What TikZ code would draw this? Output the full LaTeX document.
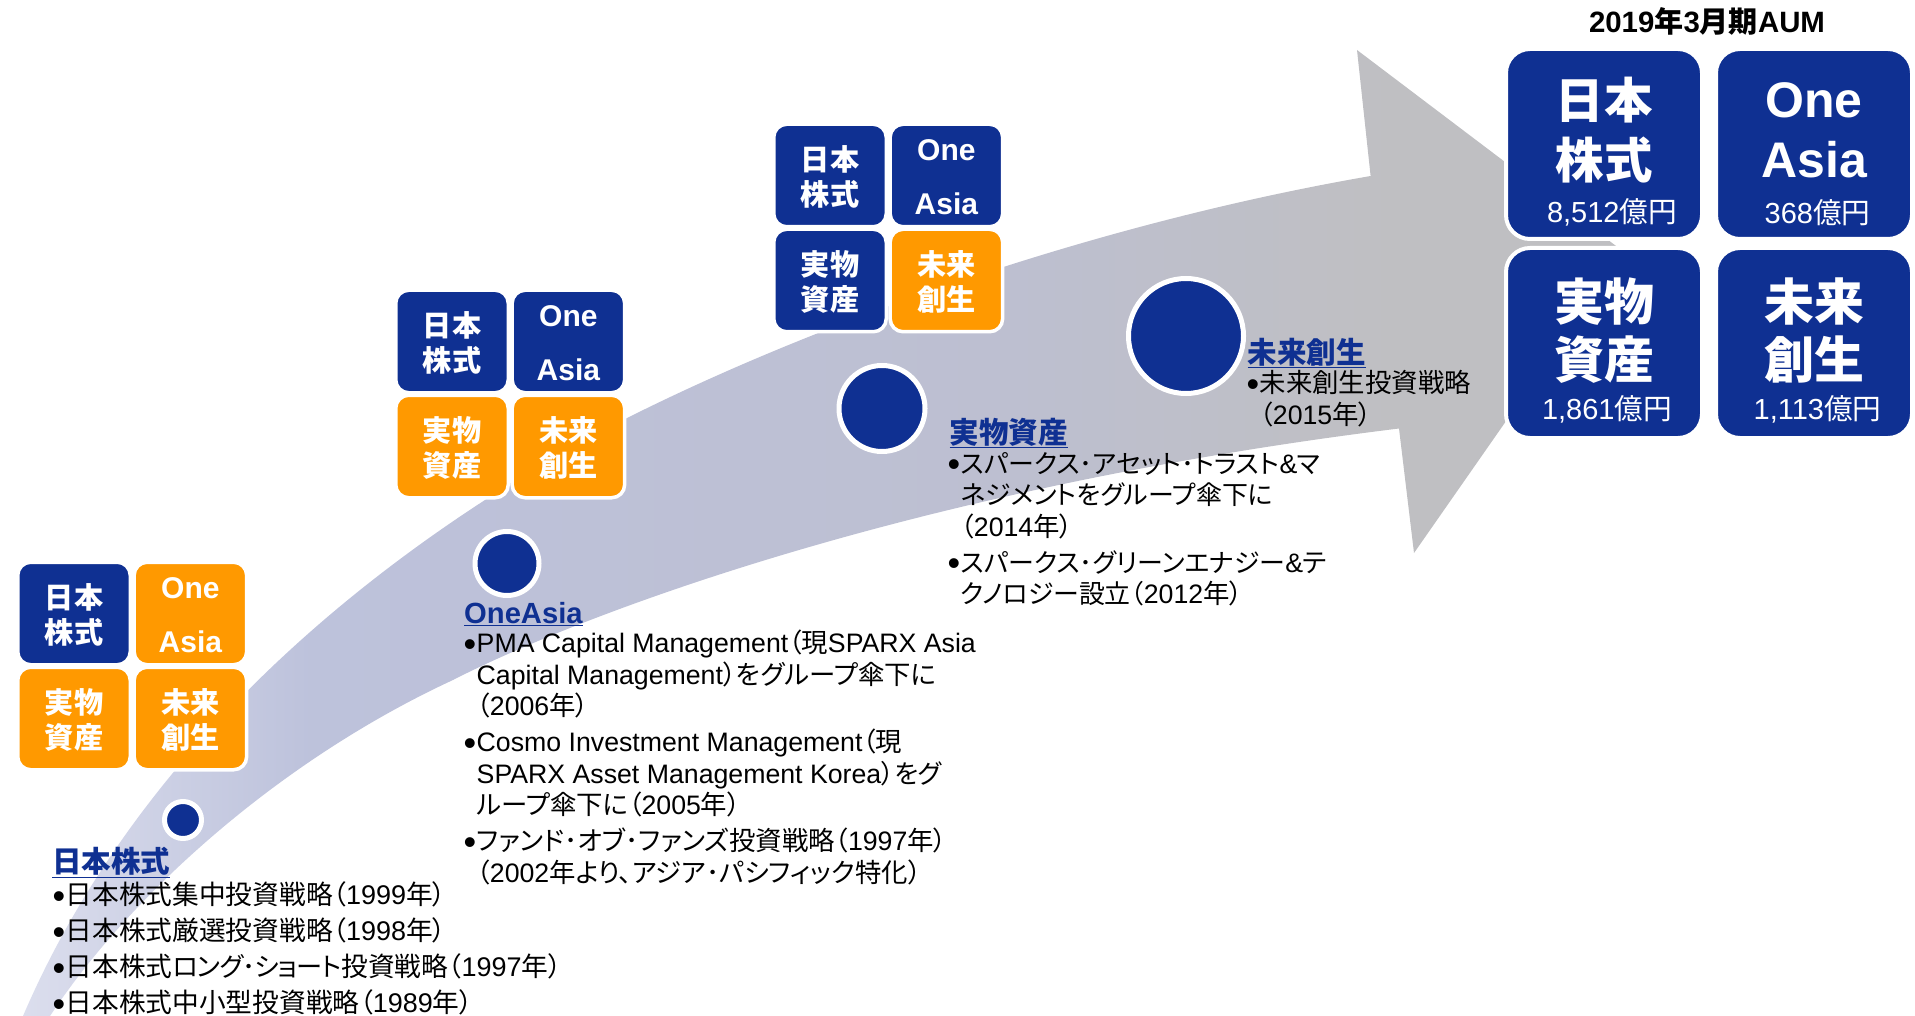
\documentclass[tikz,border=0pt]{standalone}
\usepackage{fontspec}
\setmainfont{Liberation Sans}
\newfontfamily\cjk[Scale=0.989,RawFeature=+palt]{Noto Sans CJK JP}
\newfontfamily\cjkn[Scale=0.971,RawFeature=+palt]{Noto Sans CJK JP}
\newfontfamily\cjkt[Scale=0.971,LetterSpace=-3.5,RawFeature=+palt]{Noto Sans CJK JP}
\newcommand\jp[1]{{\cjk #1}}
\newcommand\kn[1]{{\cjkn #1}}
\newcommand\kt[1]{{\cjkt #1}}
\newcommand\blt{\leavevmode\llap{\smash{\raisebox{-3.7pt}{\fontsize{36}{36}\selectfont •}}\hspace{0.5pt}}}
\newcommand\tjp{\rule{0pt}{27pt}}
\newcommand\toa{\rule{0pt}{24pt}}
\definecolor{tileblue}{RGB}{15,48,146}
\definecolor{tileorange}{RGB}{255,153,0}
\pgfdeclarehorizontalshading{arrowfade}{100bp}{
  rgb(0bp)=(0.86,0.87,0.93); rgb(25bp)=(0.86,0.87,0.93);
  rgb(34bp)=(0.74,0.76,0.86); rgb(55bp)=(0.74,0.75,0.82);
  rgb(68bp)=(0.75,0.75,0.76); rgb(100bp)=(0.75,0.75,0.76)}
\tikzset{
  tile/.style={rectangle,rounded corners=13pt,draw=white,line width=3.5pt,
    minimum width=112.5pt,minimum height=102.5pt,inner sep=0pt,text=white,align=center,
    font=\bfseries\fontsize{29.5}{35}\selectfont},
  bigtile/.style={rectangle,rounded corners=24pt,draw=white,line width=4pt,fill=tileblue,
    minimum width=196pt,minimum height=190pt,inner sep=0pt},
  bigname/.style={text=white,align=center,inner sep=0pt,font=\bfseries\fontsize{49}{60}\selectfont},
  aumval/.style={text=white,inner sep=0pt,font=\fontsize{29}{31}\selectfont},
  dot/.style={circle,fill=tileblue,draw=white,line width=5pt,inner sep=0pt},
  hd/.style={anchor=west,inner sep=0pt,text=tileblue,font=\bfseries\fontsize{29.85}{31}\selectfont},
  body/.style={anchor=north west,inner sep=0pt,align=left,font=\fontsize{26.7}{31.5}\selectfont},
}
\begin{document}
\begin{tikzpicture}[x=1pt,y=-1pt]
\useasboundingbox (0,0) rectangle (1915,1016);

\shade[shading=arrowfade] (23,1016) .. controls (120,790) and (300,620) .. (485,500)
  .. controls (640,393) and (1000,240) .. (1370.6,176)
  -- (1357,50) -- (1624,252) -- (1414,553) -- (1399,428.5)
  .. controls (900,490) and (570,620) .. (453,680)
  .. controls (280,760) and (130,895) .. (50,1016) -- cycle;

\foreach \gx/\gy/\g/\colo/\colr/\colm in {74/613.5/a/tileorange/tileorange/tileorange,
    452/341.5/b/tileblue/tileorange/tileorange, 830/175.5/c/tileblue/tileblue/tileorange} {
  \node[tile,fill=tileblue] (jp\g) at (\gx,\gy) {\tjp\jp{日本}\\\jp{株式}};
  \node[tile,fill=\colo,font=\bfseries\fontsize{30}{53.5}\selectfont] (oa\g) at (\gx+116.4,\gy) {\toa One\\Asia};
  \node[tile,fill=\colr] (ra\g) at (\gx,\gy+105) {\tjp\jp{実物}\\\jp{資産}};
  \node[tile,fill=\colm] (fc\g) at (\gx+116.4,\gy+105) {\tjp\jp{未来}\\\jp{創生}};
}

\node[bigtile] (jpd) at (1604,144) {};
\node[bigtile] (oad) at (1814,144) {};
\node[bigtile] (rad) at (1604,343) {};
\node[bigtile] (fcd) at (1814,343) {};
\node[bigname] (jpn) at (1604,130) {\jp{日本}\\\jp{株式}};
\node[bigname,font=\bfseries\fontsize{50}{60}\selectfont] (oan) at (1814,130.5) {One\\Asia};
\node[bigname,font=\bfseries\fontsize{50.5}{58}\selectfont] (ran) at (1604,330.5) {\jp{実物}\\\jp{資産}};
\node[bigname,font=\bfseries\fontsize{50.5}{58}\selectfont] (fcn) at (1814,330.5) {\jp{未来}\\\jp{創生}};
\node[aumval] (jpv) at (1612,212.5) {8,512\jp{億円}};
\node[aumval] (oav) at (1817.5,212.5) {368\jp{億円}};
\node[aumval] (rav) at (1607,409) {1,861\jp{億円}};
\node[aumval] (fcv) at (1817.5,409) {1,113\jp{億円}};
\node[inner sep=0pt,font=\bfseries\fontsize{29.4}{31}\selectfont] (aum) at (1707,21) {2019\jp{年}3\jp{月期}AUM};

\node[dot,minimum size=37pt] (dota) at (183,820) {};
\node[dot,minimum size=64pt] (dotb) at (507,563.5) {};
\node[dot,minimum size=86pt] (dotc) at (882,408.5) {};
\node[dot,minimum size=115pt] (dotd) at (1186,336) {};

\node[hd] (hda) at (52,862.5) {\underline{\jp{日本株式}}};
\node[body,font=\fontsize{27}{36}\selectfont] (txta) at (65.5,881.5) {\blt\jp{日本株式集中投資戦略（}1999\jp{年）}\\
  \blt\jp{日本株式厳選投資戦略（}1998\jp{年）}\\
  \blt\jp{日本株式}\kt{ロング･ショート}\jp{投資戦略（}1997\jp{年）}\\
  \blt\jp{日本株式中小型投資戦略（}1989\jp{年）}};

\node[hd,font=\bfseries\fontsize{29.2}{31}\selectfont] (hdb) at (464,614) {\underline{OneAsia}};
\node[body] (txtb) at (476.5,630) {\blt PMA Capital Management\jp{（現}SPARX Asia\\
  Capital Management\jp{）をグループ傘下に}\\
  \jp{（}2006\jp{年）}\\[4.5pt]
  \blt Cosmo Investment Management\jp{（現}\\
  SPARX Asset Management Korea\kn{）をグ}\\
  \jp{ループ傘下に（}2005\jp{年）}\\[4.5pt]
  \blt\jp{ファンド･オブ･ファンズ投資戦略（}1997\jp{年）}\\
  \jp{（}2002\jp{年より、アジア･パシフィック特化）}};

\node[hd] (hdc) at (949.5,433) {\underline{\jp{実物資産}}};
\node[body] (txtc) at (960.5,452) {\blt\kn{スパークス･アセット･トラスト}\&\kn{マ}\\
  \kn{ネジメントをグループ傘下に}\\
  \jp{（}2014\jp{年）}\\[4.5pt]
  \blt\kn{スパークス･グリーンエナジー}\&\jp{テ}\\
  \kn{クノロジー設立（}2012\jp{年）}};

\node[hd] (hdd) at (1247.5,353) {\underline{\jp{未来創生}}};
\node[body] (txtd) at (1259.5,370.5) {\blt\jp{未来創生投資戦略}\\
  \jp{（}2015\jp{年）}};

\end{tikzpicture}
\end{document}
